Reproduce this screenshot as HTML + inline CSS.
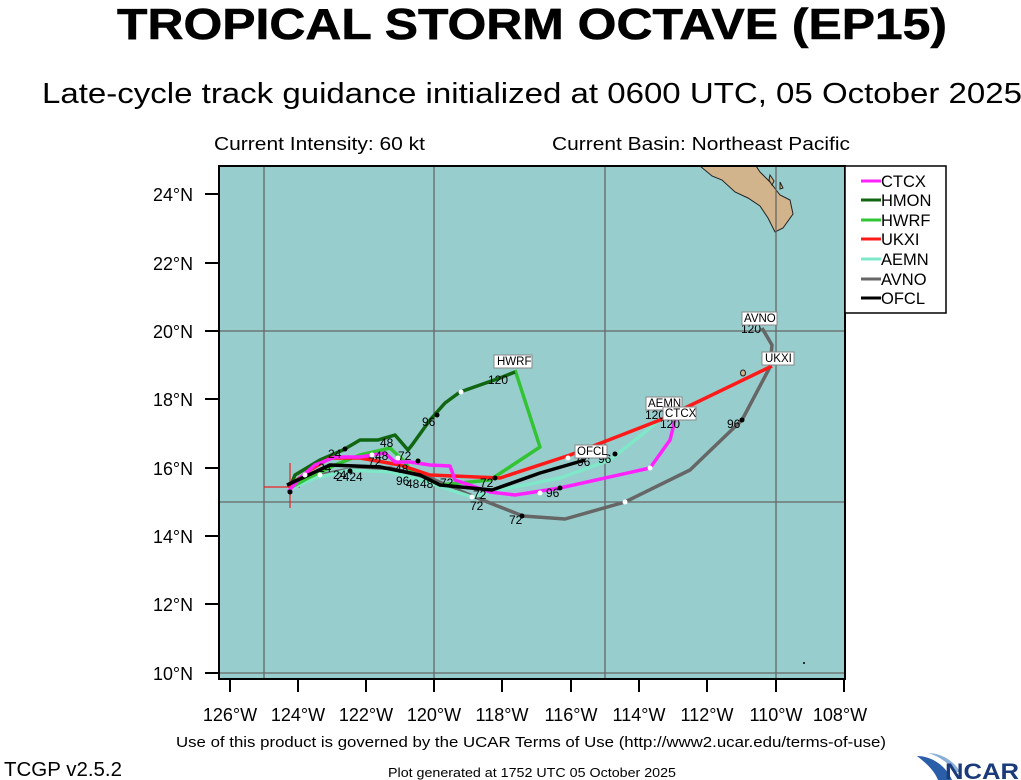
<!DOCTYPE html>
<html><head><meta charset="utf-8"><style>
html,body{margin:0;padding:0;background:#fff;}
svg{display:block;font-family:"Liberation Sans",sans-serif;}
</style></head><body>
<svg width="1021" height="780" viewBox="0 0 1021 780">
<text x="532" y="39" font-size="44" font-weight="bold" text-anchor="middle" textLength="830" lengthAdjust="spacingAndGlyphs" stroke="#000" stroke-width="0.6">TROPICAL STORM OCTAVE (EP15)</text>
<text x="532" y="103" font-size="29" text-anchor="middle" textLength="980" lengthAdjust="spacingAndGlyphs">Late-cycle track guidance initialized at 0600 UTC, 05 October 2025</text>
<text x="214" y="150" font-size="18" textLength="211" lengthAdjust="spacingAndGlyphs">Current Intensity: 60 kt</text>
<text x="552" y="150" font-size="18" textLength="298" lengthAdjust="spacingAndGlyphs">Current Basin: Northeast Pacific</text>

<defs><clipPath id="c"><rect x="219" y="166" width="626" height="513"/></clipPath></defs>
<rect x="219" y="166" width="626" height="513" fill="#98cdcd"/>
<g clip-path="url(#c)">
<path d="M700,166 L712,176 L722,180 L735,192 L748,198 L760,206 L768,218 L775,232 L783,228 L793,214 L790,200 L780,195 L770,182 L760,172 L756,166 Z" fill="#d2b48c" stroke="#222" stroke-width="1"/>
<path d="M770,175 l4,6 l-2,4 l-3,-5z M780,182 l3,6 l-3,1z" fill="#d2b48c" stroke="#222" stroke-width="1"/>
<ellipse cx="743" cy="373" rx="2.5" ry="3" fill="#d2b48c" stroke="#222"/>
<g stroke="#666" stroke-width="1.3">
<line x1="264" y1="166" x2="264" y2="679"/><line x1="434" y1="166" x2="434" y2="679"/><line x1="605" y1="166" x2="605" y2="679"/><line x1="776" y1="166" x2="776" y2="679"/>
<line x1="219" y1="331" x2="845" y2="331"/><line x1="219" y1="502" x2="845" y2="502"/><line x1="219" y1="673" x2="845" y2="673"/>
</g>
<g stroke="#e22" stroke-width="1.2"><line x1="264" y1="487" x2="300" y2="487"/><line x1="290" y1="463" x2="290" y2="508"/></g>
<g fill="none" stroke-width="3.5" stroke-linejoin="round">
<polyline stroke="#666" points="290,487 320,475 345,470 390,468 430,478 470,495 495,505 523,516 565,519 625,502 690,470 742,420 770,367 772,345 762,328"/>
<polyline stroke="#7fe8c8" points="288,490 315,478 350,470 390,472 420,480 472,497 500,490 560,478 610,460 660,420"/>
<polyline stroke="#33c433" points="290,488 310,477 335,465 360,455 390,448 405,462 410,470 440,485 490,480 540,447 515,370"/>
<polyline stroke="#116611" points="290,487 295,475 320,460 343,450 360,440 378,440 395,435 408,450 412,445 430,420 445,403 460,392 500,378 515,372"/>
<polyline stroke="#ff1a1a" points="288,487 310,470 330,458 360,458 400,465 430,475 500,478 570,455 660,420 772,366"/>
<polyline stroke="#ff22ff" points="288,492 300,478 315,465 335,457 360,457 385,453 395,462 410,462 430,465 450,466 455,480 490,492 515,495 560,488 650,468 670,440 675,420"/>
<polyline stroke="#000" points="287,485 330,465 380,467 420,475 440,485 492,490 540,473 585,460"/>
</g>
<g fill="#000"><circle cx="290" cy="492" r="2.5"/><circle cx="495" cy="478" r="2.5"/><circle cx="522" cy="516" r="2.5"/><circle cx="560" cy="488" r="2.5"/><circle cx="615" cy="454" r="2.5"/><circle cx="742" cy="420" r="2.5"/><circle cx="437" cy="415" r="2.5"/><circle cx="350" cy="471" r="2.5"/><circle cx="345" cy="449" r="2.5"/><circle cx="418" cy="461" r="2.5"/></g>
<g fill="#fff"><circle cx="320" cy="475" r="2.5"/><circle cx="650" cy="468" r="2.5"/><circle cx="625" cy="502" r="2.5"/><circle cx="540" cy="493" r="2.5"/><circle cx="568" cy="458" r="2.5"/><circle cx="461" cy="392" r="2.5"/><circle cx="398" cy="458" r="2.5"/><circle cx="372" cy="455" r="2.5"/><circle cx="472" cy="497" r="2.5"/><circle cx="305" cy="475" r="2.5"/></g>
<g font-size="12" fill="#000">
<text x="328" y="458">24</text><text x="318" y="472">24</text><text x="333" y="479">24</text><text x="336" y="481">2424</text>
<text x="380" y="447">48</text><text x="375" y="460">48</text><text x="395" y="473">48</text><text x="396" y="485">96</text><text x="406" y="488">48</text><text x="420" y="488">48</text>
<text x="368" y="466">72</text><text x="398" y="460">72</text><text x="440" y="487">72</text><text x="480" y="487">72</text><text x="473" y="499">72</text><text x="470" y="510">72</text><text x="509" y="524">72</text>
<text x="422" y="426">96</text><text x="546" y="497">96</text><text x="598" y="463">96</text><text x="577" y="466">96</text><text x="727" y="428">96</text>
<text x="488" y="384">120</text><text x="741" y="333">120</text><text x="660" y="428">120</text><text x="645" y="419">120</text>
</g>
<g font-size="11.5">
<rect x="742" y="312" width="35" height="13" fill="#fff" stroke="#888"/><text x="744" y="322">AVNO</text>
<rect x="762" y="352" width="32" height="13" fill="#fff" stroke="#888"/><text x="765" y="362">UKXI</text>
<rect x="494" y="355" width="38" height="13" fill="#fff" stroke="#888"/><text x="497" y="365">HWRF</text>
<rect x="646" y="397" width="36" height="13" fill="#fff" stroke="#888"/><text x="648" y="407">AEMN</text>
<rect x="663" y="407" width="33" height="13" fill="#fff" stroke="#888"/><text x="665" y="417">CTCX</text>
<rect x="575" y="445" width="32" height="13" fill="#fff" stroke="#888"/><text x="577" y="455">OFCL</text>
</g>
<circle cx="804" cy="663" r="1" fill="#000"/>
</g>
<rect x="219" y="166" width="626" height="513" fill="none" stroke="#000" stroke-width="2"/>
<g stroke="#000" stroke-width="2">
<line x1="205" y1="194" x2="219" y2="194"/><line x1="205" y1="263" x2="219" y2="263"/><line x1="205" y1="331" x2="219" y2="331"/><line x1="205" y1="399" x2="219" y2="399"/><line x1="205" y1="468" x2="219" y2="468"/><line x1="205" y1="536" x2="219" y2="536"/><line x1="205" y1="604" x2="219" y2="604"/><line x1="205" y1="673" x2="219" y2="673"/>
<line x1="230" y1="679" x2="230" y2="692"/><line x1="298" y1="679" x2="298" y2="692"/><line x1="366" y1="679" x2="366" y2="692"/><line x1="434" y1="679" x2="434" y2="692"/><line x1="502" y1="679" x2="502" y2="692"/><line x1="571" y1="679" x2="571" y2="692"/><line x1="639" y1="679" x2="639" y2="692"/><line x1="707" y1="679" x2="707" y2="692"/><line x1="776" y1="679" x2="776" y2="692"/><line x1="844" y1="679" x2="844" y2="692"/>
</g>
<g font-size="18" text-anchor="end">
<text x="193" y="201" textLength="40" lengthAdjust="spacingAndGlyphs">24°N</text><text x="193" y="270" textLength="40" lengthAdjust="spacingAndGlyphs">22°N</text><text x="193" y="338" textLength="40" lengthAdjust="spacingAndGlyphs">20°N</text><text x="193" y="406" textLength="40" lengthAdjust="spacingAndGlyphs">18°N</text><text x="193" y="475" textLength="40" lengthAdjust="spacingAndGlyphs">16°N</text><text x="193" y="543" textLength="40" lengthAdjust="spacingAndGlyphs">14°N</text><text x="193" y="611" textLength="40" lengthAdjust="spacingAndGlyphs">12°N</text><text x="193" y="680" textLength="40" lengthAdjust="spacingAndGlyphs">10°N</text>
</g>
<g font-size="18" text-anchor="middle">
<text x="230" y="721">126°W</text><text x="298" y="721">124°W</text><text x="366" y="721">122°W</text><text x="434" y="721">120°W</text><text x="502" y="721">118°W</text><text x="571" y="721">116°W</text><text x="639" y="721">114°W</text><text x="707" y="721">112°W</text><text x="776" y="721">110°W</text><text x="840" y="721">108°W</text>
</g>
<rect x="845" y="166" width="101" height="147" fill="#fff" stroke="#000" stroke-width="1.5"/>
<g stroke-width="3">
<line x1="861" y1="181" x2="881" y2="181" stroke="#ff22ff"/><line x1="861" y1="200" x2="881" y2="200" stroke="#116611"/><line x1="861" y1="220" x2="881" y2="220" stroke="#33c433"/><line x1="861" y1="239" x2="881" y2="239" stroke="#ff1a1a"/><line x1="861" y1="259" x2="881" y2="259" stroke="#7fe8c8"/><line x1="861" y1="279" x2="881" y2="279" stroke="#666"/><line x1="861" y1="298" x2="881" y2="298" stroke="#000"/>
</g>
<g font-size="16.5">
<text x="881" y="187">CTCX</text><text x="881" y="206">HMON</text><text x="881" y="226">HWRF</text><text x="881" y="245">UKXI</text><text x="881" y="265">AEMN</text><text x="881" y="285">AVNO</text><text x="881" y="304">OFCL</text>
</g>
<text x="531" y="747" font-size="15" text-anchor="middle" textLength="710" lengthAdjust="spacingAndGlyphs">Use of this product is governed by the UCAR Terms of Use (http://www2.ucar.edu/terms-of-use)</text>
<text x="4" y="776" font-size="20" textLength="118" lengthAdjust="spacingAndGlyphs">TCGP v2.5.2</text>
<text x="532" y="777" font-size="13" text-anchor="middle" textLength="288" lengthAdjust="spacingAndGlyphs">Plot generated at 1752 UTC   05 October 2025</text>
<path d="M917,756 C930,756 945,764 952,780 L938,780 C934,770 926,763 917,756Z" fill="#2a5ea8"/>
<path d="M928,753 C942,753 955,762 960,772 L955,772 C948,762 938,756 928,753Z" fill="#8ab0d8"/>
<text x="945" y="779" font-size="22" font-weight="bold" fill="#1a3a7a" textLength="74" lengthAdjust="spacingAndGlyphs">NCAR</text>
</svg>
</body></html>
